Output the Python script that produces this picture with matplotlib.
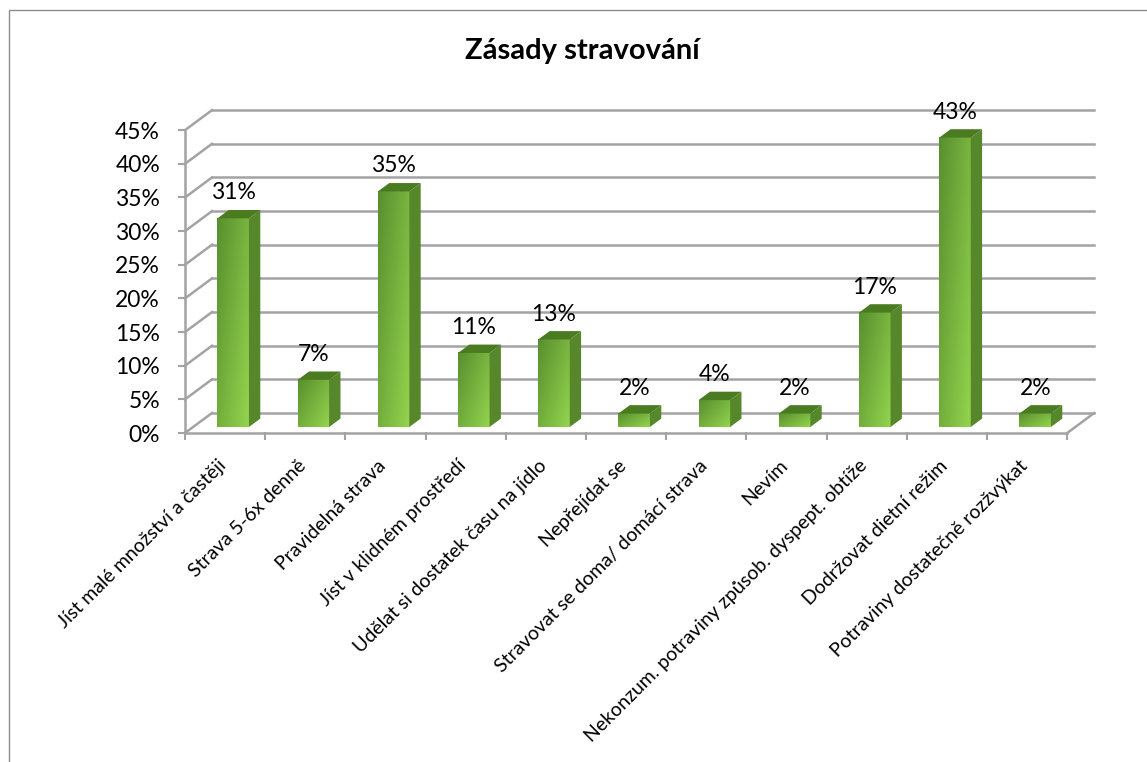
import numpy as np
import matplotlib.pyplot as plt
from matplotlib.patches import Polygon, Rectangle

categories = [
    "Jíst malé množství a častěji",
    "Strava 5-6x denně",
    "Pravidelná strava",
    "Jíst v klidném prostředí",
    "Udělat si dostatek času na jídlo",
    "Nepřejídat se",
    "Stravovat se doma/ domácí strava",
    "Nevím",
    "Nekonzum. potraviny způsob. dyspept. obtíže",
    "Dodržovat dietní režim",
    "Potraviny dostatečně rozžvýkat",
]
values = [31, 7, 35, 11, 13, 2, 4, 2, 17, 43, 2]
y_ticks = [0, 5, 10, 15, 20, 25, 30, 35, 40, 45]
title = "Zásady stravování"

W, H = 1147, 762
X0_PX, Y0_PX = 185, 433        # front origin of plot, pixels
PX_CAT, PX_PCT = 80.2, 6.73     # pixels per category / per percent

# wall depth in data units
DX = 27 / PX_CAT
DY = 20 / PX_PCT
BW = 31.5 / PX_CAT
F0, F1 = 0.3, 0.72

GRID = "#a3a3a3"
FONT = ["Lato", "DejaVu Sans"]
DARK = np.array([0x58, 0x8f, 0x2e]) / 255
LIGHT = np.array([0x94, 0xd4, 0x4e]) / 255
SIDE = "#56872a"
TOP = "#4b7b21"


def px_x(px):
    return (px - X0_PX) / PX_CAT


def px_y(py):
    return (Y0_PX - py) / PX_PCT


plt.rcParams["font.family"] = FONT
fig = plt.figure(figsize=(W / 100, H / 100), dpi=100)
ax = fig.add_axes([0, 0, 1, 1])
ax.set_axis_off()

n = len(categories)
ymax = y_ticks[-1]

# back wall + left wall grid
for k in y_ticks:
    ax.plot([DX, n + DX], [k + DY, k + DY], color=GRID, lw=1.8, zorder=1)
    ax.plot([0, DX], [k, k + DY], color=GRID, lw=1.8, zorder=1)
    ax.plot([px_x(X0_PX - 6), 0], [k, k], color=GRID, lw=1.5, zorder=1)
    ax.text(px_x(160), k - 0.3, f"{k}%", ha="right", va="center", fontsize=16.5)

# front axis and floor
ax.plot([0, 0], [0, ymax], color=GRID, lw=1.8, zorder=1)
ax.plot([0, n], [0, 0], color=GRID, lw=1.8, zorder=1)
ax.plot([n, n + DX], [0, DY], color=GRID, lw=1.8, zorder=1)
for i in range(n + 1):
    ax.plot([i, i], [0, px_y(Y0_PX + 6)], color=GRID, lw=1.5, zorder=1)

# gradient for bar fronts
gy, gx = np.mgrid[0:1:40j, 0:1:40j]
t = 0.55 * gx + 0.45 * gy
grad = DARK[None, None, :] + (LIGHT - DARK)[None, None, :] * t[:, :, None]

bdx, bdy = (F1 - F0) * DX, (F1 - F0) * DY
for i, v in enumerate(values):
    xl = i + 0.5 - BW / 2 + F0 * DX
    xr = xl + BW
    y0 = F0 * DY
    yt = y0 + v
    ax.imshow(grad, extent=(xl, xr, y0, yt), origin="upper", aspect="auto",
              interpolation="bilinear", zorder=3)
    ax.add_patch(Polygon([(xr, y0), (xr + bdx, y0 + bdy), (xr + bdx, yt + bdy), (xr, yt)],
                         closed=True, facecolor=SIDE, edgecolor="none", zorder=3))
    ax.add_patch(Polygon([(xl, yt), (xl + bdx, yt + bdy), (xr + bdx, yt + bdy), (xr, yt)],
                         closed=True, facecolor=TOP, edgecolor="none", zorder=3))
    ax.text((xl + xr) / 2, yt + 19 / PX_PCT, f"{v}%", ha="center", va="baseline",
            fontsize=16.5, zorder=4)

# category labels
for i, c in enumerate(categories):
    ax.text(i + 0.5 - 2 / PX_CAT, px_y(463), c, rotation=45, rotation_mode="anchor",
            ha="right", va="center", fontsize=14)

ax.set_xlim(px_x(0), px_x(W))
ax.set_ylim(px_y(H), px_y(0))

fig.text(582 / W, 1 - 51 / H, title, ha="center", va="center", fontsize=21,
         fontweight="bold")
fig.add_artist(Rectangle((9 / W, -0.01), 1.02, 1 - 10 / H + 0.01, transform=fig.transFigure,
                         fill=False, edgecolor="#8c8c8c", lw=1))

fig.savefig("out.png", dpi=100)
